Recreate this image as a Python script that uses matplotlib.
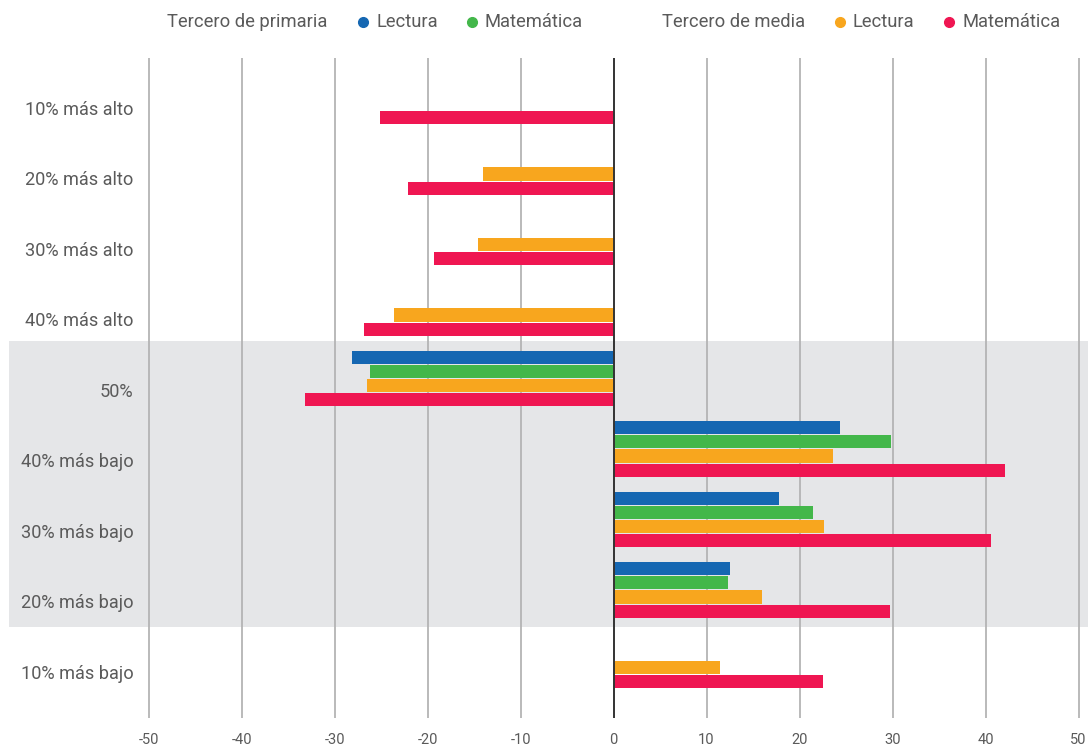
import numpy as np
import matplotlib
matplotlib.use("Agg")
import matplotlib.pyplot as plt
import matplotlib.lines as mlines

plt.rcParams['font.family'] = ['Roboto', 'DejaVu Sans']

# data
categories = ["10% más alto", "20% más alto", "30% más alto", "40% más alto", "50%",
              "40% más bajo", "30% más bajo", "20% más bajo", "10% más bajo"]
primaria_lectura = [None, None, None, None, -28.1, 24.4, 17.8, 12.5, None]
primaria_matematica = [None, None, None, None, -26.2, 29.8, 21.5, 12.3, None]
media_lectura = [None, -14.0, -14.6, -23.6, -26.5, 23.6, 22.6, 16.0, 11.4]
media_matematica = [-25.1, -22.1, -19.3, -26.8, -33.2, 42.1, 40.6, 29.7, 22.5]
shaded = ["50%", "40% más bajo", "30% más bajo", "20% más bajo"]
xticks = [-50, -40, -30, -20, -10, 0, 10, 20, 30, 40, 50]

series = [
    (primaria_lectura, "#1567B2"),
    (primaria_matematica, "#43B74A"),
    (media_lectura, "#F8A61E"),
    (media_matematica, "#EF1652"),
]

W, H = 1088, 746
fig = plt.figure(figsize=(W / 100, H / 100), dpi=100)
fig.set_facecolor("white")
ax = fig.add_axes([9 / W, 1 - 718 / H, (1088 - 9) / W, (718 - 58) / H])

x0 = 613.5
ppu = 9.3
ax.set_xlim((9 - x0) / ppu, (1088 - x0) / ppu)
ax.set_ylim(8.816, -0.546)

# shaded band
idx = [categories.index(c) for c in shaded]
ax.axhspan(min(idx) - 0.53, max(idx) + 0.53, color="#E5E6E8", zorder=0, lw=0)

# gridlines
for t in xticks:
    if t == 0:
        ax.axvline(t, color="#333333", lw=1.4, zorder=3)
    else:
        ax.axvline(t, color="#B4B4B4", lw=1.3, zorder=1)

slot = 0.2
pos = np.arange(len(categories))
for j, (vals, col) in enumerate(series):
    for i, v in enumerate(vals):
        if v is None:
            continue
        ax.barh(pos[i] + (j - 1.5) * slot, v, height=slot * 0.93, color=col, lw=0, zorder=2)

TXT = "#5A5A5A"
for i, c in enumerate(categories):
    ax.text(-51.6, pos[i] + 0.19, c, ha="right", va="center", fontsize=13.1,
            color=TXT)

ax.set_xticks(xticks)
ax.set_xticklabels([str(t) for t in xticks], fontsize=10.5, color="#5A5A5A")
ax.tick_params(axis="x", length=0, pad=11)
ax.set_yticks([])
for s in ax.spines.values():
    s.set_visible(False)
ax.patch.set_alpha(0)

# legend at top
ly = 1 - 22 / H
def ftext(px, s):
    fig.text(px / W, ly, s, ha="left", va="center", fontsize=13.2, color=TXT)

def dot(px, col):
    fig.add_artist(mlines.Line2D([px / W], [ly], marker="o", markersize=7, color=col,
                                 transform=fig.transFigure))

ftext(167, "Tercero de primaria")
dot(363, series[0][1]); ftext(376, "Lectura")
dot(472, series[1][1]); ftext(485, "Matemática")
ftext(662, "Tercero de media")
dot(840, series[2][1]); ftext(853, "Lectura")
dot(949, series[3][1]); ftext(962, "Matemática")

fig.savefig("out.png", dpi=100)
